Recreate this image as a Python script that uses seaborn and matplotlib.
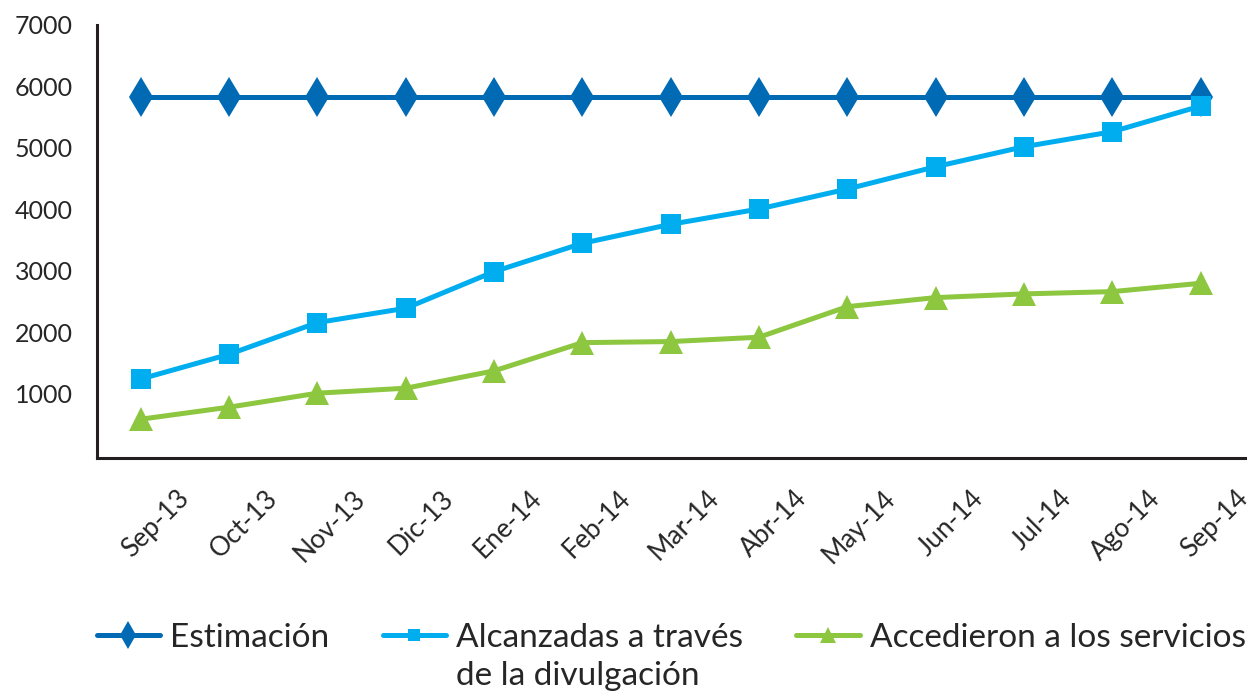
import numpy as np
import pandas as pd
import matplotlib.pyplot as plt
import seaborn as sns
from matplotlib.lines import Line2D

# dati
meses = ['Sep-13', 'Oct-13', 'Nov-13', 'Dic-13', 'Ene-14', 'Feb-14', 'Mar-14',
         'Abr-14', 'May-14', 'Jun-14', 'Jul-14', 'Ago-14', 'Sep-14']
estimacion = [5820] * 13
alcanzadas = [1243, 1645, 2160, 2393, 2988, 3449, 3758, 4007, 4331, 4694, 5019, 5263, 5680]
accedieron = [589, 785, 1012, 1093, 1375, 1834, 1851, 1922, 2419, 2566, 2626, 2663, 2799]

series = ['Estimación', 'Alcanzadas a través', 'Accedieron a los servicios']
seconda_riga = 'de la divulgación'
colores = ['#006AB4', '#00AEEF', '#8DC63F']
marcadores = ['d', 's', '^']
tamanos = [20, 14, 17]
tamanos_legenda = [14, 9, 12]

df = pd.DataFrame({'mes': meses, series[0]: estimacion,
                   series[1]: alcanzadas, series[2]: accedieron})
df['pos'] = np.arange(len(meses))
df_long = df.melt(id_vars=['mes', 'pos'], var_name='serie', value_name='valor')

sns.set_style('white')
plt.rcParams['font.family'] = ['Lato', 'DejaVu Sans']

fig = plt.figure(figsize=(12.56, 6.91), dpi=100)
ax = fig.add_axes([0.077, 0.337, 0.914, 0.627])

for s, c, m, ms in zip(series, colores, marcadores, tamanos):
    sns.lineplot(data=df_long[df_long['serie'] == s], x='pos', y='valor', color=c,
                 marker=m, markersize=ms, markeredgewidth=0, linewidth=3.6,
                 ax=ax, legend=False)

ax.set_xlim(-0.5, len(meses) - 0.5)
ax.set_ylim(-44, 7000)
ax.set_yticks([1000, 2000, 3000, 4000, 5000, 6000, 7000])
ax.set_xticks(df['pos'] + 0.5)
ax.set_xticklabels(meses, rotation=45, ha='right', va='center', rotation_mode='anchor')
ax.set_xlabel('')
ax.set_ylabel('')
ax.tick_params(axis='x', length=13, width=2, color='#231F20', labelsize=19, pad=13)
ax.tick_params(axis='y', length=11, width=2, color='#231F20', labelsize=18, pad=6)
for lado in ['top', 'right']:
    ax.spines[lado].set_visible(False)
for lado in ['left', 'bottom']:
    ax.spines[lado].set_linewidth(2.2)
    ax.spines[lado].set_color('#231F20')

# legenda: la seconda riga della voce centrale come voce senza simbolo
vuoto = Line2D([], [], linestyle='none', marker=None)
handles = []
labels = []
for i, (s, c, m, ms) in enumerate(zip(series, colores, marcadores, tamanos_legenda)):
    handles.append(Line2D([], [], color=c, linewidth=3.6, marker=m, markersize=ms,
                          markeredgewidth=0))
    labels.append(s)
    handles.append(vuoto)
    labels.append(seconda_riga if i == 1 else ' ')
fig.legend(handles, labels, loc='upper left', bbox_to_anchor=(0.077, 0.099),
           ncol=3, frameon=False, fontsize=24, handlelength=1.9, borderpad=0,
           borderaxespad=0, handletextpad=0.3, columnspacing=1.6, labelspacing=0.25)

plt.savefig('out.png', dpi=100)
